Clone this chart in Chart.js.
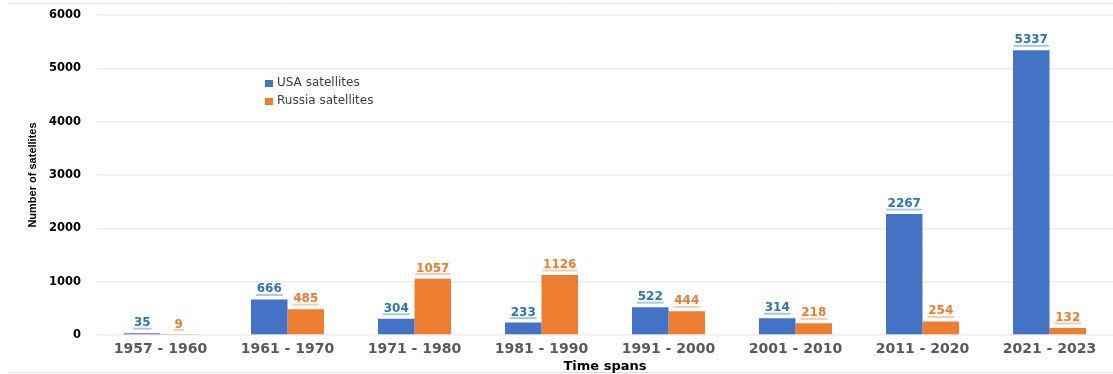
<!DOCTYPE html>
<html>
<head>
<meta charset="utf-8">
<script src="https://cdn.jsdelivr.net/npm/chart.js@4.4.1/dist/chart.umd.min.js"></script>
<style>
  html, body { margin: 0; padding: 0; background: #fff; }
  #wrap { width: 1113px; height: 374px; position: relative; }
</style>
</head>
<body>
<div id="wrap"><canvas id="sats"></canvas></div>
<script>
// Satellites launched per period
const spans = ['1957 - 1960', '1961 - 1970', '1971 - 1980', '1981 - 1990', '1991 - 2000', '2001 - 2010', '2011 - 2020', '2021 - 2023'];
const usaSats = [35, 666, 304, 233, 522, 314, 2267, 5337];
const russiaSats = [9, 485, 1057, 1126, 444, 218, 254, 132];
const yTicks = [0, 1000, 2000, 3000, 4000, 5000, 6000];

const BLUE = '#4472c4';
const ORANGE = '#ed7d31';
const FONT = '"DejaVu Sans", Verdana, sans-serif';

// light frame lines above and below the chart
const framePlugin = {
    id: 'frame',
    beforeDraw(chart) {
        const c = chart.ctx;
        c.save();
        c.strokeStyle = '#dedede';
        c.lineWidth = 1;
        c.beginPath();
        c.moveTo(8, 3.5); c.lineTo(chart.width, 3.5);
        c.moveTo(8, 372.5); c.lineTo(chart.width, 372.5);
        c.stroke();
        c.restore();
    }
};

// value labels above each bar, underlined
const valueLabels = {
    id: 'valueLabels',
    afterDatasetsDraw(chart) {
        const c = chart.ctx;
        c.save();
        c.font = 'bold 12px ' + FONT;
        c.textAlign = 'center';
        c.textBaseline = 'alphabetic';
        chart.data.datasets.forEach((ds, i) => {
            const meta = chart.getDatasetMeta(i);
            const txtColor = i === 0 ? '#2e75b6' : ORANGE;
            const lineColor = i === 0 ? 'rgba(46,117,182,0.4)' : 'rgba(237,125,49,0.4)';
            meta.data.forEach((bar, j) => {
                const label = String(ds.data[j]);
                const y = bar.y - 7;
                c.fillStyle = txtColor;
                c.fillText(label, bar.x, y);
                const w = c.measureText(label).width;
                c.fillStyle = lineColor;
                c.fillRect(bar.x - w / 2 - 1, y + 1.5, w + 2, 2);
            });
        });
        c.restore();
    }
};

// legend drawn inside the plot area
const innerLegend = {
    id: 'innerLegend',
    afterDraw(chart) {
        const c = chart.ctx;
        c.save();
        c.font = '12px ' + FONT;
        c.textBaseline = 'middle';
        chart.data.datasets.forEach((ds, i) => {
            const y = 83 + i * 18;
            c.fillStyle = ds.backgroundColor;
            c.fillRect(265, y - 3, 8, 7);
            c.fillStyle = '#404040';
            c.fillText(ds.label, 277, y);
        });
        c.restore();
    }
};

new Chart(document.getElementById('sats'), {
    type: 'bar',
    data: {
        labels: spans,
        datasets: [
            { label: 'USA satellites', data: usaSats, backgroundColor: BLUE },
            { label: 'Russia satellites', data: russiaSats, backgroundColor: ORANGE }
        ]
    },
    options: {
        responsive: true,
        maintainAspectRatio: false,
        animation: false,
        layout: { padding: { left: 20, top: 15, right: 0, bottom: 0 } },
        datasets: { bar: { categoryPercentage: 0.575, barPercentage: 1 } },
        plugins: { legend: { display: false }, tooltip: { enabled: false } },
        scales: {
            x: {
                grid: { display: false, drawTicks: false },
                border: { display: false },
                ticks: { color: '#595959', font: { family: FONT, size: 14, weight: 'bold' }, padding: 6, maxRotation: 0 },
                title: { display: true, text: 'Time spans', color: '#000', font: { family: FONT, size: 13, weight: 'bold' }, padding: { top: 0, bottom: 0 } },
                afterFit(s) { s.height = 39; s.paddingLeft = 0; s.paddingRight = 0; }
            },
            y: {
                min: 0,
                max: 6000,
                afterBuildTicks(s) { s.ticks = yTicks.map(v => ({ value: v })); },
                grid: { color: '#ececec', lineWidth: 1.5, drawTicks: false },
                border: { display: false },
                ticks: { color: '#000', font: { family: FONT, size: 11.5, weight: 'bold' }, padding: 16, callback: v => String(v) },
                title: { display: true, text: 'Number of satellites', color: '#000', font: { family: '"Liberation Sans Narrow", "Liberation Sans", sans-serif', size: 11, weight: 'bold' }, padding: { top: 6, bottom: 0 } },
                afterFit(s) { s.width = 77; s.paddingTop = 0; s.paddingBottom = 0; }
            }
        }
    },
    plugins: [framePlugin, valueLabels, innerLegend]
});
</script>
</body>
</html>
